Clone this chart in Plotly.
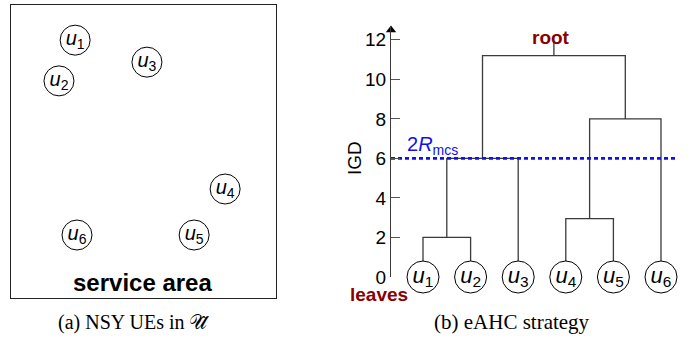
import plotly.graph_objects as go

W, H = 699, 341          # reference picture size (coordinates below are in it)
H_FIG = 352              # rendered height (the capture is scaled back to H)

# ---------------- data ----------------
ue_names = ["u1", "u2", "u3", "u4", "u5", "u6"]
# Panel (a): UE positions inside the service area (0-100 units)
ue_x = [24.2, 18.1, 51.3, 80.8, 69.1, 24.9]
ue_y = [88.0, 74.1, 80.5, 37.2, 21.5, 21.5]

# Panel (b): dendrogram (eAHC)
leaf_pos = [1, 2, 3, 4, 5, 6]
# merges: (child_a, child_b, IGD height); new cluster ids start at len(leaves)
merges = [(0, 1, 2.0), (3, 4, 2.95), (6, 2, 6.0), (7, 5, 8.0), (8, 9, 11.2)]
root_top = 11.9
threshold = 6.0          # 2R_mcs
y_ticks = [0, 2, 4, 6, 8, 10, 12]

# ---------------- helpers ----------------
SANS = "Liberation Sans, Arial, sans-serif"
SERIF = "Liberation Serif, Times New Roman, serif"
DARKRED = "#880000"
BLUE = "#1010ee"
LINE = "#3a3a3a"


def lab(n):
    return f"<i>u</i><sub>{n[1:]}</sub>"


def px(x):
    return x / W


def py(y):
    return 1 - y / H


# dendrogram segments
n = len(leaf_pos)
pos = {i: leaf_pos[i] for i in range(n)}
hgt = {i: 0.0 for i in range(n)}
dx, dy = [], []
for k, (a, b, h) in enumerate(merges):
    cid = n + k
    dx += [pos[a], pos[a], pos[b], pos[b], None]
    dy += [hgt[a], h, h, hgt[b], None]
    pos[cid] = (pos[a] + pos[b]) / 2
    hgt[cid] = h
root = n + len(merges) - 1
dx += [pos[root], pos[root]]
dy += [hgt[root], root_top]

x0 = leaf_pos[0] - 32 / 47.6
x1 = leaf_pos[-1] + 17 / 47.6
y_top = 12.7

fig = go.Figure()

# Panel (a)
fig.add_trace(go.Scatter(
    x=ue_x, y=ue_y, mode="markers+text", xaxis="x2", yaxis="y2",
    marker=dict(size=30, color="white", line=dict(color="black", width=1)),
    text=[lab(s) for s in ue_names], textposition="middle center",
    textfont=dict(family=SANS, size=20, color="black"),
    cliponaxis=False, hoverinfo="skip", showlegend=False))

# Panel (b)
fig.add_trace(go.Scatter(
    x=dx, y=dy, mode="lines", line=dict(color=LINE, width=1.3),
    hoverinfo="skip", showlegend=False, cliponaxis=False))
fig.add_trace(go.Scatter(
    x=[x0, x1], y=[threshold, threshold], mode="lines",
    line=dict(color=BLUE, width=2.6, dash="4px,3px"),
    hoverinfo="skip", showlegend=False, cliponaxis=False))
fig.add_trace(go.Scatter(
    x=leaf_pos, y=[0] * n, mode="markers+text",
    marker=dict(size=32, color="white", line=dict(color="black", width=1)),
    text=[lab(s) for s in ue_names], textposition="middle center",
    textfont=dict(family=SANS, size=22, color="black"),
    cliponaxis=False, hoverinfo="skip", showlegend=False))
# axis arrow head
fig.add_trace(go.Scatter(
    x=[x0], y=[y_top - 0.2], mode="markers",
    marker=dict(symbol="triangle-up", size=9, color="black"),
    cliponaxis=False, hoverinfo="skip", showlegend=False))

fig.update_layout(
    width=W, height=H_FIG, autosize=False, margin=dict(l=0, r=0, t=0, b=0),
    paper_bgcolor="white", plot_bgcolor="rgba(0,0,0,0)",
    xaxis=dict(domain=[px(391), px(678)], range=[x0, x1], visible=False,
               anchor="y"),
    yaxis=dict(domain=[py(277), py(26)], range=[0, y_top], anchor="x",
               showline=True, linecolor=LINE, linewidth=1.3,
               ticks="inside", ticklen=9, tickcolor="#555", tickwidth=1,
               tickvals=y_ticks, ticktext=[str(t) for t in y_ticks],
               tickfont=dict(family=SANS, size=19, color="black"),
               showgrid=False, zeroline=False),
    xaxis2=dict(domain=[px(11), px(276)], range=[0, 100], anchor="y2",
                showline=True, mirror=True, linecolor="#222", linewidth=1.3,
                ticks="", showticklabels=False, showgrid=False, zeroline=False),
    yaxis2=dict(domain=[py(298), py(5)], range=[0, 100], anchor="x2",
                showline=True, mirror=True, linecolor="#222", linewidth=1.3,
                ticks="", showticklabels=False, showgrid=False, zeroline=False),
)

ann = [
    dict(text="<b>service area</b>", x=px(142), y=py(282),
         font=dict(family=SANS, size=24, color="black")),
    dict(text="(a) NSY UEs in 𝒰̂", x=px(134), y=py(322),
         font=dict(family=SERIF, size=20, color="black")),
    dict(text="(b) eAHC strategy", x=px(512), y=py(322),
         font=dict(family=SERIF, size=21, color="black")),
    dict(text="<b>root</b>", x=px(551), y=py(37),
         font=dict(family=SANS, size=19, color=DARKRED)),
    dict(text="<b>leaves</b>", x=px(379), y=py(294), borderpad=0,
         font=dict(family=SANS, size=19, color=DARKRED)),
    dict(text="2<i>R</i><sub>mcs</sub>", x=px(432), y=py(145),
         font=dict(family=SANS, size=20, color=BLUE)),
    dict(text="IGD", x=px(354), y=py(158), textangle=-90,
         font=dict(family=SANS, size=19, color="black")),
]
for a in ann:
    a.update(xref="paper", yref="paper", showarrow=False,
             xanchor="center", yanchor="middle")
    fig.add_annotation(**a)

post = (
    "document.documentElement.style.margin='0';"
    "document.documentElement.style.overflow='hidden';"
    "document.body.style.margin='0';"
    "document.body.style.overflow='hidden';"
)
fig.write_html("out.html", config={"displayModeBar": False,
                                   "responsive": False},
               post_script=post)
